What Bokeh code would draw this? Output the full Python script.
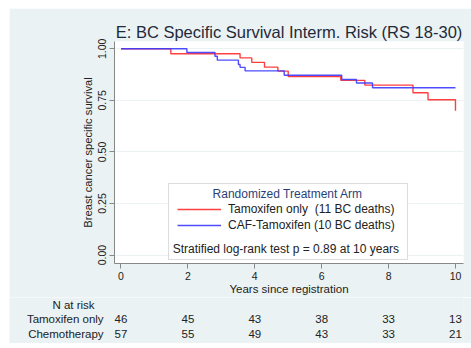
from bokeh.plotting import figure
from bokeh.layouts import column
from bokeh.models import (Range1d, FixedTicker, Label, ColumnDataSource,
                          Legend, LegendItem, BoxAnnotation)
from bokeh.core.properties import value
from bokeh.embed import file_html
from bokeh.resources import INLINE

# Kaplan-Meier step data (years, survival)
tam_years = [0.0, 1.49, 3.56, 3.91, 4.29, 4.69, 5.00, 6.57, 7.29, 8.73, 9.18, 10.0]
tam_surv = [1.000, 0.976, 0.956, 0.934, 0.911, 0.892, 0.866, 0.847, 0.824, 0.787, 0.753, 0.700]
caf_years = [0.0, 1.97, 2.81, 2.88, 3.51, 3.56, 3.71, 4.88, 6.60, 7.04, 7.52, 10.0]
caf_surv = [1.000, 0.982, 0.964, 0.945, 0.924, 0.910, 0.893, 0.872, 0.851, 0.834, 0.811, 0.811]

# Numbers at risk
risk_years = [0, 2, 4, 6, 8, 10]
risk_tam = [46, 45, 43, 38, 33, 13]
risk_chemo = [57, 55, 49, 43, 33, 21]
risk_rows = ["Tamoxifen only", "Chemotherapy"]

x_ticks = [0, 2, 4, 6, 8, 10]
y_ticks = [0.0, 0.25, 0.5, 0.75, 1.0]
y_tick_labels = {0.0: "0.00", 0.25: "0.25", 0.5: "0.50", 0.75: "0.75", 1.0: "1.00"}

FONT = "Liberation Sans"
BG = "#EAF2F3"
TXT = "#222222"
X0, X1 = -0.194, 10.24          # main frame range (years)
PX_PER_YEAR = 349 / (X1 - X0)

p = figure(width=462, height=289, output_backend="svg", toolbar_location=None,
           x_range=Range1d(X0, X1), y_range=Range1d(-0.041, 1.0354),
           min_border_left=105, min_border_right=8, min_border_top=33, min_border_bottom=34,
           background_fill_color="white", border_fill_color=BG,
           title="E: BC Specific Survival Interm. Risk (RS 18-30)")
p.outline_line_color = None
p.frame_align = False

p.title.text_font = FONT
p.title.text_font_size = "16.5px"
p.title.text_font_style = "normal"
p.title.text_color = "#1f2a3a"
p.title.align = "center"
p.title.standoff = 2
p.title.text_line_height = 1.9

# axes
for ax in (p.xaxis[0], p.yaxis[0]):
    ax.axis_line_color = "#888888"
    ax.major_tick_line_color = "#888888"
    ax.major_tick_out = 5
    ax.major_tick_in = 0
    ax.minor_tick_line_color = None
    ax.major_label_text_font = FONT
    ax.major_label_text_font_size = "10.5px"
    ax.major_label_text_color = TXT
    ax.axis_label_text_font = FONT
    ax.axis_label_text_font_style = "normal"
    ax.axis_label_text_color = TXT

p.xaxis.ticker = FixedTicker(ticks=x_ticks)
p.xaxis.axis_label = "Years since registration"
p.xaxis.axis_label_text_font_size = "11.5px"
p.xaxis.major_label_standoff = 3
p.xaxis.axis_label_standoff = 0

p.yaxis.ticker = FixedTicker(ticks=y_ticks)
p.yaxis.major_label_overrides = y_tick_labels
p.yaxis.major_label_orientation = "vertical"
p.yaxis.axis_label = "Breast cancer specific survival"
p.yaxis.axis_label_text_font_size = "11.2px"
p.yaxis.major_label_standoff = 3
p.yaxis.axis_label_standoff = 2

p.xgrid.grid_line_color = None
p.ygrid.grid_line_color = BG
p.ygrid.grid_line_width = 1

# survival curves
r_tam = p.step(tam_years, tam_surv, mode="after", line_color="#ff2a2a", line_width=1.4, line_alpha=0.9)
r_caf = p.step(caf_years, caf_surv, mode="after", line_color="#3a3aff", line_width=1.4, line_alpha=0.9)

# legend frame and texts
box = BoxAnnotation(left=1.42, right=8.565, top=0.3468, bottom=-0.0218,
                    fill_color="white", fill_alpha=1.0, line_color="#8a8a8a", line_width=1)
p.add_layout(box)

p.add_layout(Label(x=4.985, y=0.298, text="Randomized Treatment Arm", text_align="center",
                   text_baseline="middle", text_font=FONT, text_font_size="12px",
                   text_color="#2b3f7a"))
p.add_layout(Label(x=4.93, y=0.0315, text="Stratified log-rank test p = 0.89 at 10 years",
                   text_align="center", text_baseline="middle", text_font=FONT,
                   text_font_size="12px", text_color=TXT))

legend = Legend(items=[LegendItem(label="Tamoxifen only  (11 BC deaths)", renderers=[r_tam]),
                       LegendItem(label="CAF-Tamoxifen (10 BC deaths)", renderers=[r_caf])],
                location=(63, 30), padding=0, margin=0, spacing=0,
                glyph_width=44, glyph_height=16, label_height=16, label_standoff=7,
                label_text_font=FONT, label_text_font_size="12px", label_text_color=TXT,
                background_fill_alpha=0, border_line_alpha=0)
p.add_layout(legend)

# numbers-at-risk table: its own strip sharing the year scale
t_left = X0 - 105 / PX_PER_YEAR
t = figure(width=462, height=46, output_backend="svg", toolbar_location=None,
           x_range=Range1d(t_left, X1), y_range=Range1d(46, 0),
           min_border_left=0, min_border_right=8, min_border_top=0, min_border_bottom=0,
           background_fill_color=BG, border_fill_color=BG)
t.outline_line_color = None
t.frame_align = False
t.axis.visible = False
t.grid.grid_line_color = None

ROW_Y = {"head": 7, risk_rows[0]: 21, risk_rows[1]: 36}
t.text(x=[-0.79], y=[ROW_Y["head"]], text=["N at risk"], text_align="right",
       text_baseline="middle", text_font=value(FONT), text_font_size="11.5px", text_color=TXT)
t.text(x=[-0.52, -0.52], y=[ROW_Y[r] for r in risk_rows], text=risk_rows, text_align="right",
       text_baseline="middle", text_font=value(FONT), text_font_size="11.5px", text_color=TXT)

risk_src = ColumnDataSource(dict(x=risk_years + risk_years,
                                 y=[ROW_Y[risk_rows[0]]] * len(risk_years) + [ROW_Y[risk_rows[1]]] * len(risk_years),
                                 n=[str(v) for v in risk_tam + risk_chemo]))
t.text(x="x", y="y", text="n", source=risk_src, text_align="center", text_baseline="middle",
       text_font=value(FONT), text_font_size="11.5px", text_color=TXT)

layout = column(p, t, spacing=0, margin=(8, 0, 5, 9))
open("out.html", "w").write(file_html(layout, INLINE))
